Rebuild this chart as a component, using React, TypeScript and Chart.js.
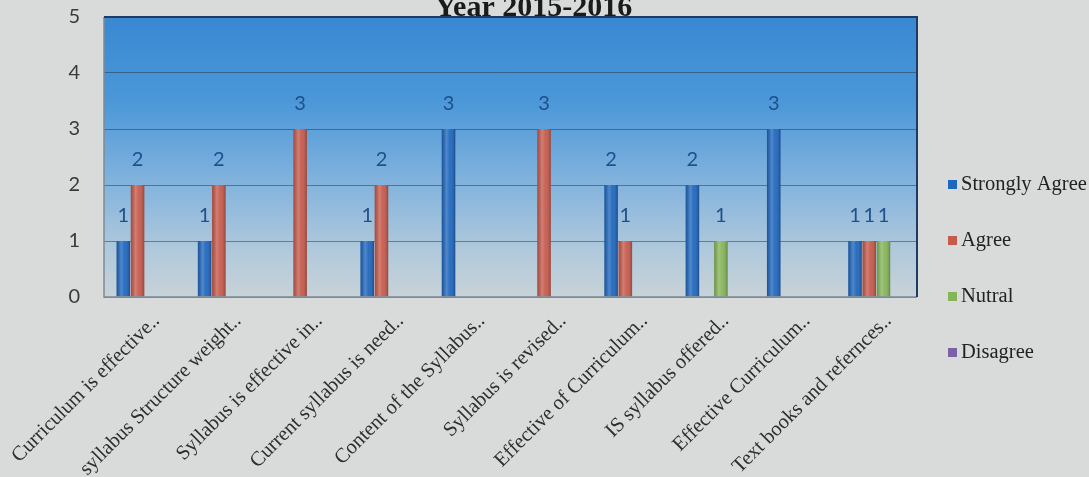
import React, { useEffect, useRef } from "react";
import { Chart, registerables } from "chart.js";
Chart.register(...registerables);

const chartTitle = "Year 2015-2016";
const categories = [
  "Curriculum is effective..",
  "syllabus Structure weight..",
  "Syllabus is effective in..",
  "Current syllabus is need..",
  "Content of the Syllabus..",
  "Syllabus is revised..",
  "Effective of Curriculum..",
  "IS syllabus offered..",
  "Effective Curriculum..",
  "Text books and refernces..",
];
const seriesNames = ["Strongly Agree", "Agree", "Nutral", "Disagree"];
const stronglyAgree = [1, 1, 0, 1, 3, 0, 2, 2, 3, 1];
const agree = [2, 2, 3, 2, 0, 3, 1, 0, 0, 1];
const nutral = [0, 0, 0, 0, 0, 0, 0, 1, 0, 1];
const disagree = [0, 0, 0, 0, 0, 0, 0, 0, 0, 0];
const yMin = 0;
const yMax = 5;
const yStep = 1;

const colors = ["#1f66bd", "#c65a4c", "#86b45a", "#7a62a6"];
const PAGE_BG = "#d8dbda";
const SERIF = "'Liberation Serif', 'Times New Roman', serif";
const SANS = "Lato, 'Open Sans', sans-serif";

const backgroundPlugin = {
  id: "bgPlugin",
  beforeDraw(chart: any) {
    const { ctx, chartArea: a, width, height } = chart;
    ctx.save();
    ctx.fillStyle = PAGE_BG;
    ctx.fillRect(0, 0, width, height);
    const g = ctx.createLinearGradient(0, a.top, 0, a.bottom);
    g.addColorStop(0, "#3888d2");
    g.addColorStop(0.3, "#4b97d8");
    g.addColorStop(0.6, "#84b4dd");
    g.addColorStop(0.85, "#b3cadb");
    g.addColorStop(1, "#c8d2d8");
    ctx.fillStyle = g;
    ctx.fillRect(a.left, a.top, a.right - a.left, a.bottom - a.top);
    ctx.restore();
  },
};

const barStylePlugin = {
  id: "barStyle",
  afterDatasetsDraw(chart: any) {
    const { ctx } = chart;
    ctx.save();
    chart.data.datasets.forEach((ds: any, di: number) => {
      const meta = chart.getDatasetMeta(di);
      meta.data.forEach((el: any, i: number) => {
        const v = ds.data[i];
        if (!v) return;
        const w = el.width;
        const left = el.x - w / 2;
        const top = el.y;
        const h = el.base - el.y;
        const g = ctx.createLinearGradient(left, 0, left + w, 0);
        g.addColorStop(0, "rgba(0,0,0,0.18)");
        g.addColorStop(0.35, "rgba(255,255,255,0.22)");
        g.addColorStop(0.6, "rgba(255,255,255,0.05)");
        g.addColorStop(1, "rgba(0,0,0,0.25)");
        ctx.fillStyle = g;
        ctx.fillRect(left, top, w, h);
      });
    });
    ctx.restore();
  },
};

const labelsPlugin = {
  id: "valueLabels",
  afterDatasetsDraw(chart: any) {
    const { ctx } = chart;
    ctx.save();
    ctx.font = `20px ${SANS}`;
    ctx.fillStyle = "#1f4f8c";
    ctx.textAlign = "center";
    ctx.textBaseline = "middle";
    chart.data.datasets.forEach((ds: any, di: number) => {
      const meta = chart.getDatasetMeta(di);
      meta.data.forEach((el: any, i: number) => {
        const v = ds.data[i];
        if (!v) return;
        ctx.fillText(String(v), el.x, el.y - 25);
      });
    });
    ctx.restore();
  },
};

const framePlugin = {
  id: "frame",
  afterDatasetsDraw(chart: any) {
    const { ctx, chartArea: a } = chart;
    ctx.save();
    ctx.lineWidth = 1.5;
    ctx.strokeStyle = "#7f8a94";
    ctx.beginPath();
    ctx.moveTo(a.left, a.top);
    ctx.lineTo(a.left, a.bottom);
    ctx.lineTo(a.right, a.bottom);
    ctx.stroke();
    ctx.strokeStyle = "#1d3b63";
    ctx.lineWidth = 2;
    ctx.beginPath();
    ctx.moveTo(a.left, a.top);
    ctx.lineTo(a.right, a.top);
    ctx.lineTo(a.right, a.bottom);
    ctx.stroke();
    ctx.restore();
  },
};

const titlePlugin = {
  id: "topTitle",
  afterDraw(chart: any) {
    const { ctx, width } = chart;
    ctx.save();
    ctx.font = `bold 30px ${SERIF}`;
    ctx.fillStyle = "#1a1a1a";
    ctx.textAlign = "center";
    ctx.textBaseline = "alphabetic";
    ctx.fillText(chartTitle, width / 2 - 11, 16);
    ctx.restore();
  },
};

const legendPlugin = {
  id: "sideLegend",
  afterDraw(chart: any) {
    const { ctx, chartArea: a, scales } = chart;
    const y = scales.y;
    const step = y.getPixelForValue(0) - y.getPixelForValue(1);
    const startY = y.getPixelForValue(2);
    ctx.save();
    ctx.font = `20.5px ${SERIF}`;
    ctx.textAlign = "left";
    ctx.textBaseline = "middle";
    chart.data.datasets.forEach((ds: any, i: number) => {
      const cy = startY + i * step;
      const x = a.right + 31;
      ctx.fillStyle = ds.backgroundColor;
      ctx.fillRect(x, cy - 5, 9, 9);
      ctx.fillStyle = "#222";
      ctx.fillText(ds.label, x + 13, cy);
    });
    ctx.restore();
  },
};

export default function App() {
  const ref = useRef<HTMLCanvasElement | null>(null);
  useEffect(() => {
    document.body.style.margin = "0";
    if (!ref.current) return;
    const seriesData = [stronglyAgree, agree, nutral, disagree];
    const chart = new Chart(ref.current, {
      type: "bar",
      data: {
        labels: categories,
        datasets: seriesNames.map((name, i) => ({
          label: name,
          data: seriesData[i],
          backgroundColor: colors[i],
          borderWidth: 0,
          categoryPercentage: 0.7,
          barPercentage: 0.95,
        })),
      },
      options: {
        responsive: false,
        animation: false,
        layout: { padding: { top: 17, right: 172, left: 0, bottom: 0 } },
        plugins: {
          legend: { display: false },
          title: { display: false },
          tooltip: { enabled: false },
        },
        scales: {
          x: {
            grid: { display: false },
            border: { display: false },
            ticks: {
              autoSkip: false,
              minRotation: 45,
              maxRotation: 45,
              padding: 4,
              labelOffset: 12,
              color: "#2e2e2e",
              font: { family: SERIF, size: 20.5 },
            },
            afterFit: (s: any) => {
              s.height = 180;
              s.paddingLeft = 0;
              s.paddingRight = 0;
            },
          },
          y: {
            min: yMin,
            max: yMax,
            ticks: {
              stepSize: yStep,
              padding: 24,
              color: "#3a3a3a",
              font: { family: SANS, size: 20 },
            },
            grid: { color: "rgba(45,60,85,0.55)", drawTicks: false, lineWidth: 1 },
            border: { display: false },
            afterFit: (s: any) => {
              s.width = 104;
              s.paddingTop = 0;
              s.paddingBottom = 0;
            },
          },
        },
      },
      plugins: [backgroundPlugin, barStylePlugin, labelsPlugin, framePlugin, titlePlugin, legendPlugin],
    });
    return () => chart.destroy();
  }, []);
  return (
    <div style={{ width: 1089, height: 477 }}>
      <canvas ref={ref} width={1089} height={477} style={{ display: "block" }} />
    </div>
  );
}
